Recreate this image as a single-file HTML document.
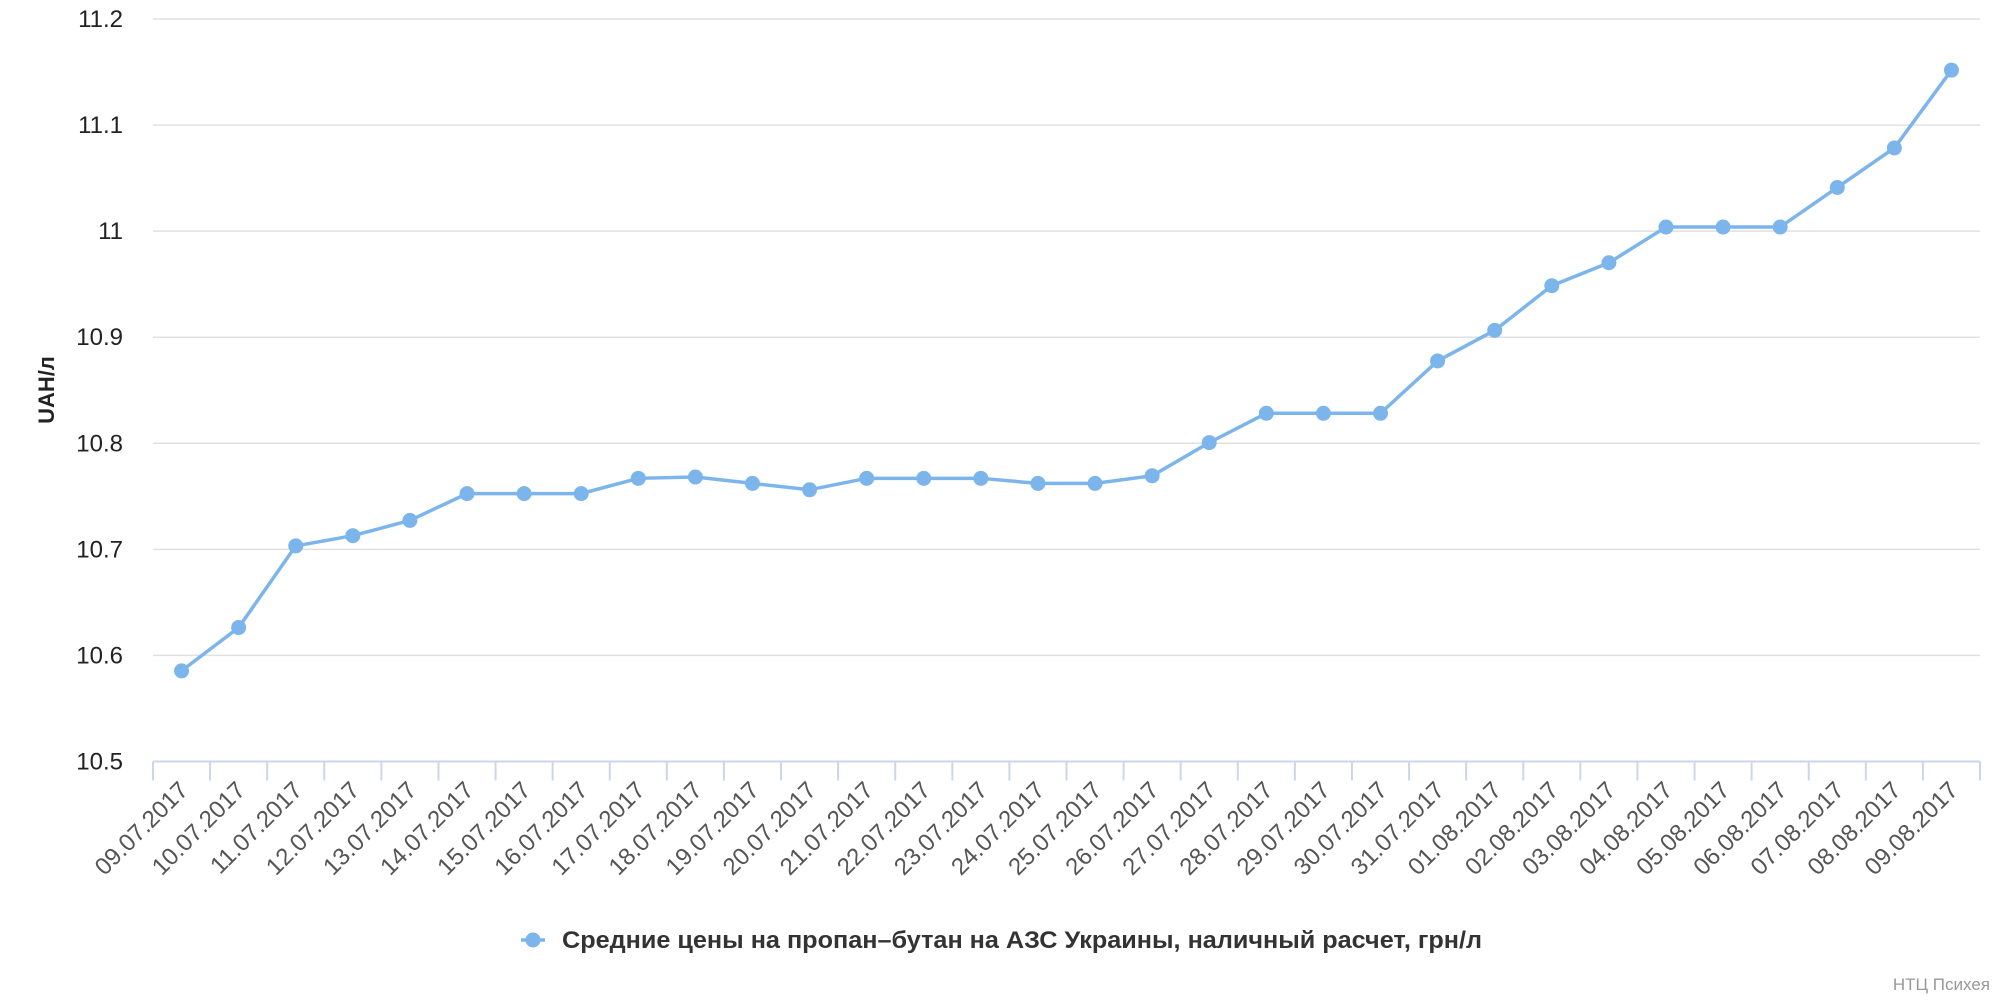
<!DOCTYPE html>
<html><head><meta charset="utf-8"><style>
html,body{margin:0;padding:0;background:#fff;width:2000px;height:1000px;overflow:hidden}
svg{display:block;font-family:"Liberation Sans","DejaVu Sans",sans-serif}
</style></head><body>
<svg id="s" width="2000" height="1000" xmlns="http://www.w3.org/2000/svg"></svg>
<script>
(function(){
const s=document.getElementById('s');
let h='';
const yTop=19, yBot=761.5, x0=153, x1=1980;
const labs=['10.5','10.6','10.7','10.8','10.9','11','11.1','11.2'];
labs.forEach((v,i)=>{
  const y=yBot-(yBot-yTop)*i/7;
  if(i>0) h+=`<line x1="${x0}" x2="${x1}" y1="${y}" y2="${y}" stroke="#e0e0e0" stroke-width="1.5"/>`;
  h+=`<text x="123" y="${y+8}" text-anchor="end" font-size="24" fill="#222">${v}</text>`;
});
h+=`<line x1="${x0}" x2="${x1}" y1="${yBot}" y2="${yBot}" stroke="#ccd6eb" stroke-width="2"/>`;
const n=32, w=(x1-x0)/n;
for(let i=0;i<=n;i++){const x=x0+i*w;h+=`<line x1="${x}" x2="${x}" y1="${yBot}" y2="${yBot+19}" stroke="#ccd6eb" stroke-width="2"/>`;}
const yd=[526,492,428,420,408,387,387,387,375,374,379,384,375,375,375,379,379,373,347,324,324,324,283,259,224,206,178,178,178,147,116,55];
const dates=[];
for(let d=9;d<=31;d++)dates.push(String(d).padStart(2,'0')+'.07.2017');
for(let d=1;d<=9;d++)dates.push(String(d).padStart(2,'0')+'.08.2017');
let pts=[];
for(let i=0;i<n;i++){
  const x=x0+w/2+i*w, y=yd[i]*1.2755;
  pts.push([x,y]);
  h+=`<text transform="translate(${x+8},${yBot+30}) rotate(-45)" text-anchor="end" font-size="24" fill="#555">${dates[i]}</text>`;
}
h+=`<polyline points="${pts.map(p=>p.join(',')).join(' ')}" fill="none" stroke="#7cb5ec" stroke-width="3.5"/>`;
pts.forEach(p=>h+=`<circle cx="${p[0]}" cy="${p[1]}" r="7.5" fill="#7cb5ec"/>`);
h+=`<text transform="translate(54,390) rotate(-90)" text-anchor="middle" font-size="22" font-weight="bold" fill="#222">UAH/л</text>`;
h+=`<line x1="521" x2="545" y1="940" y2="940" stroke="#7cb5ec" stroke-width="3.5"/><circle cx="533" cy="940" r="7.5" fill="#7cb5ec"/>`;
h+=`<text x="562" y="948" font-size="24" fill="#333" font-weight="bold" textLength="920" lengthAdjust="spacingAndGlyphs">Средние цены на пропан–бутан на АЗС Украины, наличный расчет, грн/л</text>`;
h+=`<text x="1990" y="990" text-anchor="end" font-size="17" fill="#999">НТЦ Психея</text>`;
s.innerHTML=h;
})();
</script>
</body></html>
